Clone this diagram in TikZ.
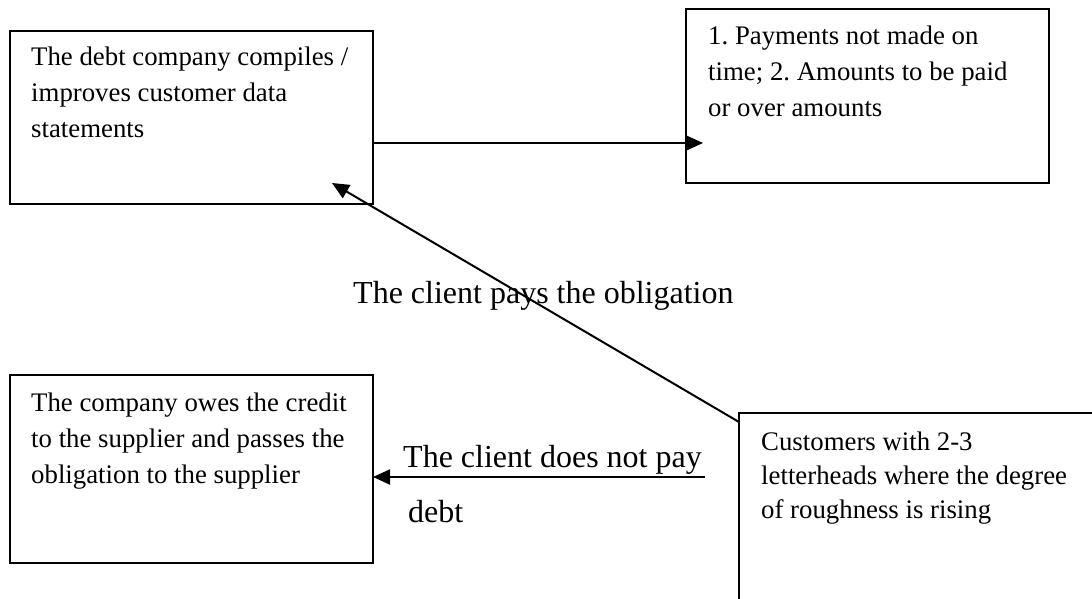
\documentclass[tikz,border=0pt]{standalone}
\usepackage{fontspec}
\setmainfont{Liberation Serif}
\usetikzlibrary{arrows.meta,calc}
\begin{document}
\frenchspacing
\begin{tikzpicture}[x=1pt,y=-1pt,
  box/.style={draw=black,line width=1.7pt,inner sep=0pt,outer sep=0pt,anchor=north west},
  txt/.style={inner sep=0pt,anchor=base west,text width=345pt,align=flush left,font=\fontsize{26.8}{36}\selectfont},
  txtd/.style={txt,font=\fontsize{26.8}{34}\selectfont},
  lbl/.style={inner sep=0pt,anchor=base west,font=\fontsize{32}{38}\selectfont},
  arr/.style={line width=2pt,-{Triangle[length=17pt,width=15pt]}}]
\useasboundingbox (0,0) rectangle (1092,598);
\clip (0,0) rectangle (1092,598);
% boxes
\node[box,minimum width=363pt,minimum height=173pt] (A) at (10,31) {};
\node[box,minimum width=363pt,minimum height=174pt] (B) at (686,9) {};
\node[box,minimum width=363pt,minimum height=188pt] (C) at (10,375) {};
\node[box,minimum width=400pt,minimum height=250pt] (D) at (739,413) {};
% box texts
\node[txt] (At) at (31,65) {The debt company compiles /\\improves customer data\\statements};
\node[txt] (Bt) at (708,44) {1. Payments not made on\\time; 2. Amounts to be paid\\or over amounts};
\node[txt] (Ct) at (31,411) {The company owes the credit\\to the supplier and passes the\\obligation to the supplier};
\node[txtd] (Dt) at (761,450) {Customers with 2-3\\letterheads where the degree\\of roughness is rising};
% labels
\node[lbl] (L1) at (353,303) {The client pays the obligation};
\node[lbl] (L2) at (403,467) {The client does not pay};
\node[lbl] (L3) at (408,522) {debt};
% connectors
\draw[arr] (A.east |- 0,143) -- ($(B.west |- 0,143)+(17,0)$);
\draw[arr] ($(D.north west)+(0,9)$) -- ($(A.south east)+(-41,-21)$);
\coordinate (dstart) at (705,477);
\draw[arr] (dstart) -- (C.east |- dstart);
\end{tikzpicture}
\end{document}
